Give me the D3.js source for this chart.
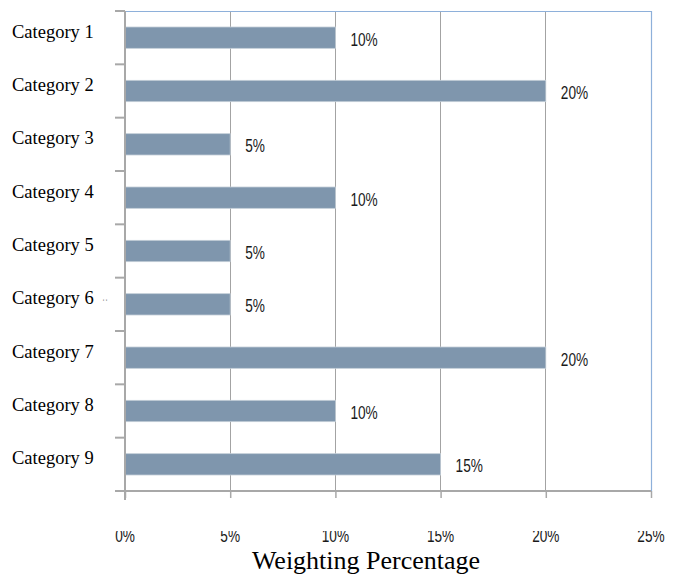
<!DOCTYPE html>
<html>
<head>
<meta charset="utf-8">
<script src="https://cdn.jsdelivr.net/npm/d3@7"></script>
<style>
  html, body { margin: 0; padding: 0; background: #fff; }
  svg { display: block; }
</style>
</head>
<body>
<svg id="chart" width="680" height="574"></svg>
<script>
// Weighting percentage per category
const categories = ["Category 1", "Category 2", "Category 3", "Category 4", "Category 5",
                    "Category 6", "Category 7", "Category 8", "Category 9"];
const weights = [10, 20, 5, 10, 5, 5, 20, 10, 15];
const tickValues = [0, 5, 10, 15, 20, 25];

const svg = d3.select("#chart");
const margin = { left: 125, right: 29, top: 11, bottom: 83 };
const W = 680, H = 574;
const x = d3.scaleLinear().domain([0, 25]).range([margin.left, W - margin.right]);
const y = d3.scaleBand().domain(categories).range([margin.top, H - margin.bottom])
  .paddingInner(0.6).paddingOuter(0.3);
const yTop = margin.top, yBot = H - margin.bottom;

const sans = "'Liberation Sans', Arial, sans-serif";
const serif = "'Liberation Serif', 'Times New Roman', serif";
const narrowScale = 0.78;   // horizontal squeeze for the narrow percentage labels

// vertical gridlines
svg.append("g").selectAll("line").data(tickValues.slice(1, -1)).join("line")
  .attr("x1", d => x(d)).attr("x2", d => x(d))
  .attr("y1", yTop).attr("y2", yBot)
  .attr("stroke", "#a3a3a3").attr("stroke-width", 1).attr("shape-rendering", "crispEdges");

// blue frame along top and right
svg.append("path")
  .attr("d", `M${x(0)},${yTop + 0.5}H${x(25) + 0.5}V${yBot}`)
  .attr("fill", "none").attr("stroke", "#8eb0da").attr("stroke-width", 1.2);

// bars
svg.append("g").selectAll("rect").data(weights).join("rect")
  .attr("x", x(0))
  .attr("y", (d, i) => y(categories[i]))
  .attr("width", d => x(d) - x(0))
  .attr("height", y.bandwidth())
  .attr("fill", "#7f96ad")
  .attr("stroke", "#c4ced8").attr("stroke-width", 0.8);

// value labels
svg.append("g").selectAll("text").data(weights).join("text")
  .attr("transform", (d, i) =>
    `translate(${x(d) + 15},${y(categories[i]) + y.bandwidth() / 2 + 8}) scale(${narrowScale},1)`)
  .attr("font-family", sans).attr("font-size", 17.5).attr("fill", "#1a1a1a")
  .text(d => d + "%");

// left axis with category ticks at band boundaries
const step = (yBot - yTop) / categories.length;
svg.append("line")
  .attr("x1", x(0)).attr("x2", x(0)).attr("y1", yTop).attr("y2", yBot + 9)
  .attr("stroke", "#a8a8a8").attr("stroke-width", 2);
svg.append("g").selectAll("line").data(d3.range(categories.length + 1)).join("line")
  .attr("x1", x(0) - 10).attr("x2", x(0))
  .attr("y1", i => yTop + i * step).attr("y2", i => yTop + i * step)
  .attr("stroke", "#a8a8a8").attr("stroke-width", 2);

// category labels
svg.append("g").selectAll("text").data(categories).join("text")
  .attr("x", 12)
  .attr("y", d => y(d) + y.bandwidth() / 2)
  .attr("font-family", serif).attr("font-size", 18.5).attr("fill", "#000")
  .text(d => d);

// bottom axis
const xAxis = d3.axisBottom(x).tickValues(tickValues).tickSize(7).tickFormat(d => d + "%");
const gx = svg.append("g").attr("transform", `translate(0,${yBot})`).call(xAxis);
gx.select(".domain").attr("stroke", "#a8a8a8").attr("stroke-width", 2)
  .attr("d", `M${x(0) - 10},0H${x(25)}`);
gx.selectAll(".tick line").attr("stroke", "#a8a8a8").attr("stroke-width", 1.5);

// tick labels, top edge trimmed
svg.append("clipPath").attr("id", "tickClip")
  .append("rect").attr("x", 0).attr("y", 531).attr("width", W).attr("height", 14);
gx.selectAll(".tick text").remove();
svg.append("g").attr("clip-path", "url(#tickClip)")
  .selectAll("text").data(tickValues).join("text")
  .attr("transform", d => `translate(${x(d)},542) scale(${narrowScale},1)`)
  .attr("text-anchor", "middle")
  .attr("font-family", sans).attr("font-size", 17.5).attr("fill", "#1a1a1a")
  .text(d => d + "%");

// small mark beside the axis
svg.append("text")
  .attr("transform", "translate(107,300) rotate(-90)")
  .attr("text-anchor", "middle")
  .attr("font-family", serif).attr("font-size", 9).attr("fill", "#333")
  .text(":");

// axis title
svg.append("text")
  .attr("x", 366).attr("y", 569)
  .attr("text-anchor", "middle")
  .attr("font-family", serif).attr("font-size", 26).attr("fill", "#000")
  .text("Weighting Percentage");
</script>
</body>
</html>
